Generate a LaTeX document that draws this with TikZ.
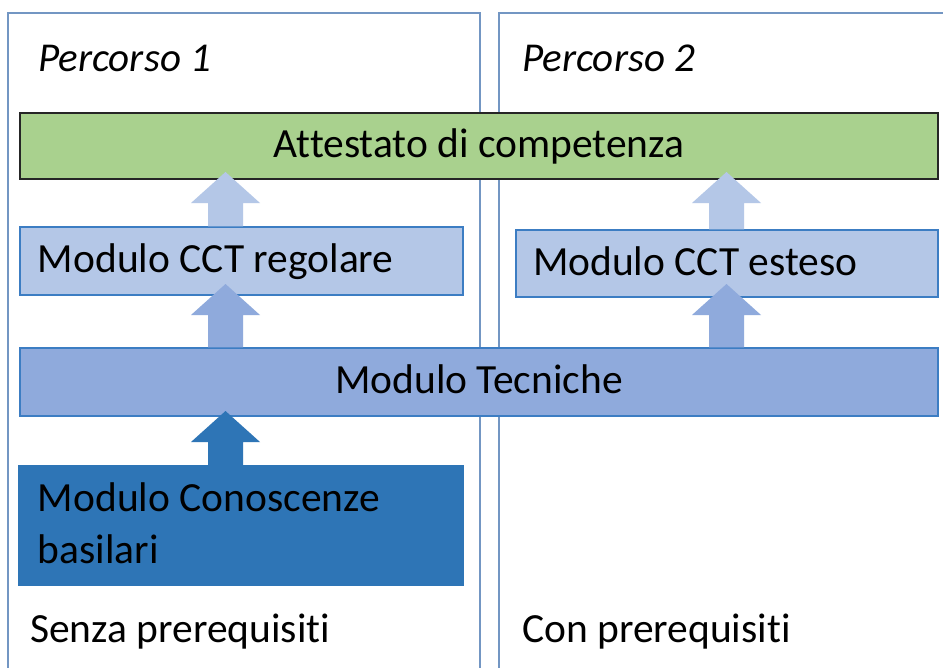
\documentclass[tikz,border=0pt]{standalone}
\usepackage{fontspec}
\setmainfont{Carlito}[Ligatures={NoCommon}]
\usetikzlibrary{calc}
\definecolor{panelc}{RGB}{115,150,195}
\definecolor{boxline}{RGB}{60,125,195}
\definecolor{lightb}{HTML}{B4C7E7}
\definecolor{midb}{HTML}{8FAADC}
\definecolor{darkb}{HTML}{2E75B6}
\definecolor{greenf}{HTML}{A9D18E}
\newcommand{\fatarrow}[3]{%
  \fill[#1] let \p1=(#2), \p2=(#3) in
    (\x1-17.5bp,\y1) -- (\x1-17.5bp,\y2-31bp) -- (\x1-34.5bp,\y2-31bp) -- (\x1,\y2)
    -- (\x1+34.5bp,\y2-31bp) -- (\x1+17.5bp,\y2-31bp) -- (\x1+17.5bp,\y1) -- cycle;}
\begin{document}
\begin{tikzpicture}[x=1bp,y=-1bp,
  every node/.style={font=\fontsize{41.5bp}{52bp}\selectfont, inner sep=0pt, text=black,
    execute at begin node={\spaceskip=0pt\xspaceskip=0pt\relax}},
  box/.style={draw=boxline, line width=1.3bp, text height=28bp, text depth=5bp},
  panel/.style={draw=panelc, line width=1.3bp}]
\useasboundingbox (0,0) rectangle (943,668);
\clip (0,0) rectangle (943,668);
\fill[white] (0,0) rectangle (943,668);
% panels
\draw[panel] (8,700) |- (480,13) -- (480,700);
\draw[panel] (499,700) |- (980,13);
% boxes
\node[box, draw=black!85, fill=greenf, minimum width=918bp, minimum height=66bp] (att) at (479,146) {Attestato di competenza};
\node[box, fill=lightb, minimum height=68bp, text width=407bp, align=left, inner xsep=18bp] (reg) at (241.5,261) {Modulo CCT regolare};
\node[box, fill=lightb, minimum height=67bp, text width=388bp, align=left, inner xsep=17bp] (est) at (727,263.5) {Modulo CCT esteso};
\node[box, fill=midb, minimum width=918bp, minimum height=68bp] (tec) at (479,382) {Modulo Tecniche};
\node[box, draw=darkb, fill=darkb, minimum height=119bp, text width=406bp, align=left, inner xsep=19bp, text height=28bp, text depth=57bp] (con) at (241,525.5) {Modulo Conoscenze\\basilari};
% labels
\node[anchor=base west, font=\fontsize{41bp}{48bp}\selectfont\itshape] (p1) at (38,72) {Percorso 1};
\node[anchor=base west, font=\fontsize{41bp}{48bp}\selectfont\itshape] (p2) at (522,72) {Percorso 2};
\node[anchor=base west] (senza) at (30,642) {Senza prerequisiti};
\node[anchor=base west] (conp) at (522,642) {Con prerequisiti};
% arrow endpoints
\coordinate (a1s) at (225.5,0 |- reg.north);
\coordinate (a1t) at (225.5,172);
\coordinate (a2s) at (225.5,0 |- tec.north);
\coordinate (a2t) at (225.5,284);
\coordinate (a3s) at (225.5,0 |- con.north);
\coordinate (a3t) at (225.5,411);
\coordinate (b1s) at (726.5,0 |- est.north);
\coordinate (b1t) at (726.5,172);
\coordinate (b2s) at (726.5,0 |- tec.north);
\coordinate (b2t) at (726.5,284);
\fatarrow{lightb}{a1s}{a1t}
\fatarrow{midb}{a2s}{a2t}
\fatarrow{darkb}{a3s}{a3t}
\fatarrow{lightb}{b1s}{b1t}
\fatarrow{midb}{b2s}{b2t}
\end{tikzpicture}
\end{document}
